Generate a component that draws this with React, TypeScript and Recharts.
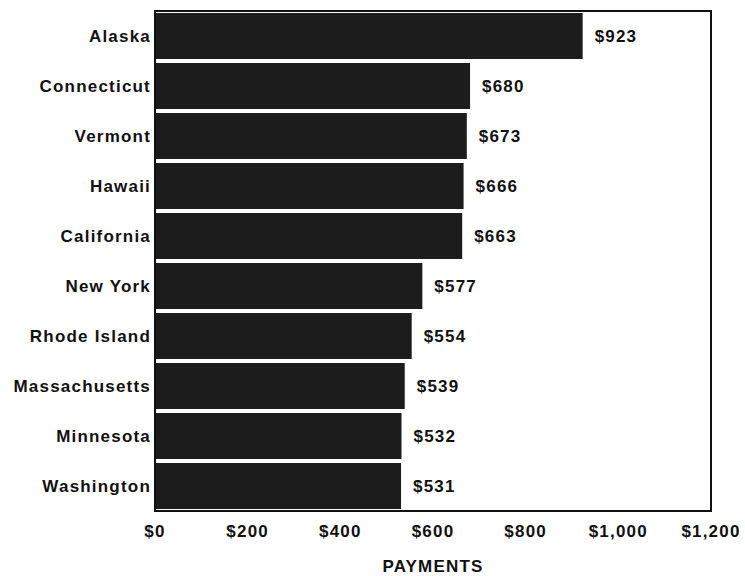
import { Bar, BarChart, LabelList, ReferenceArea, XAxis, YAxis } from "recharts"

const states = ["Alaska", "Connecticut", "Vermont", "Hawaii", "California", "New York", "Rhode Island", "Massachusetts", "Minnesota", "Washington"]
const payments = [923, 680, 673, 666, 663, 577, 554, 539, 532, 531]
const xTicks = [0, 200, 400, 600, 800, 1000, 1200]

const data = states.map((name, i) => ({ name, value: payments[i] }))

const font = "'Liberation Sans', Arial, Helvetica, sans-serif"
const ink = "#111"
const textStyle = { fontFamily: font, fontWeight: 700, fontSize: 17, letterSpacing: 1.2, fill: ink }

const money = (v: number) => "$" + v.toLocaleString("en-US")

export default function App() {
    return (
        <div style={{ position: "absolute", left: 0, top: 0, background: "#fff" }}>
            <BarChart width={745} height={576} data={data} layout="vertical"
                margin={{ top: 11, right: 34, bottom: 0, left: 0 }} barCategoryGap={2}>
                <XAxis type="number" domain={[0, 1200]} ticks={xTicks} tickFormatter={money}
                    height={65} tickSize={0} tickMargin={14} interval={0}
                    axisLine={{ stroke: ink, strokeWidth: 2 }} tick={textStyle}
                    label={{ value: "PAYMENTS", position: "insideBottom", offset: 4, style: textStyle }} />
                <YAxis type="category" dataKey="name" width={155} tickSize={0} tickMargin={4}
                    axisLine={{ stroke: ink, strokeWidth: 2 }} tick={textStyle} interval={0} />
                <Bar dataKey="value" fill="#1c1c1c" isAnimationActive={false}>
                    <LabelList dataKey="value" position="right" offset={12} formatter={money} style={textStyle} />
                </Bar>
                <ReferenceArea x1={0} x2={1200} fill="none" fillOpacity={0} stroke={ink} strokeWidth={2} />
            </BarChart>
        </div>
    )
}
